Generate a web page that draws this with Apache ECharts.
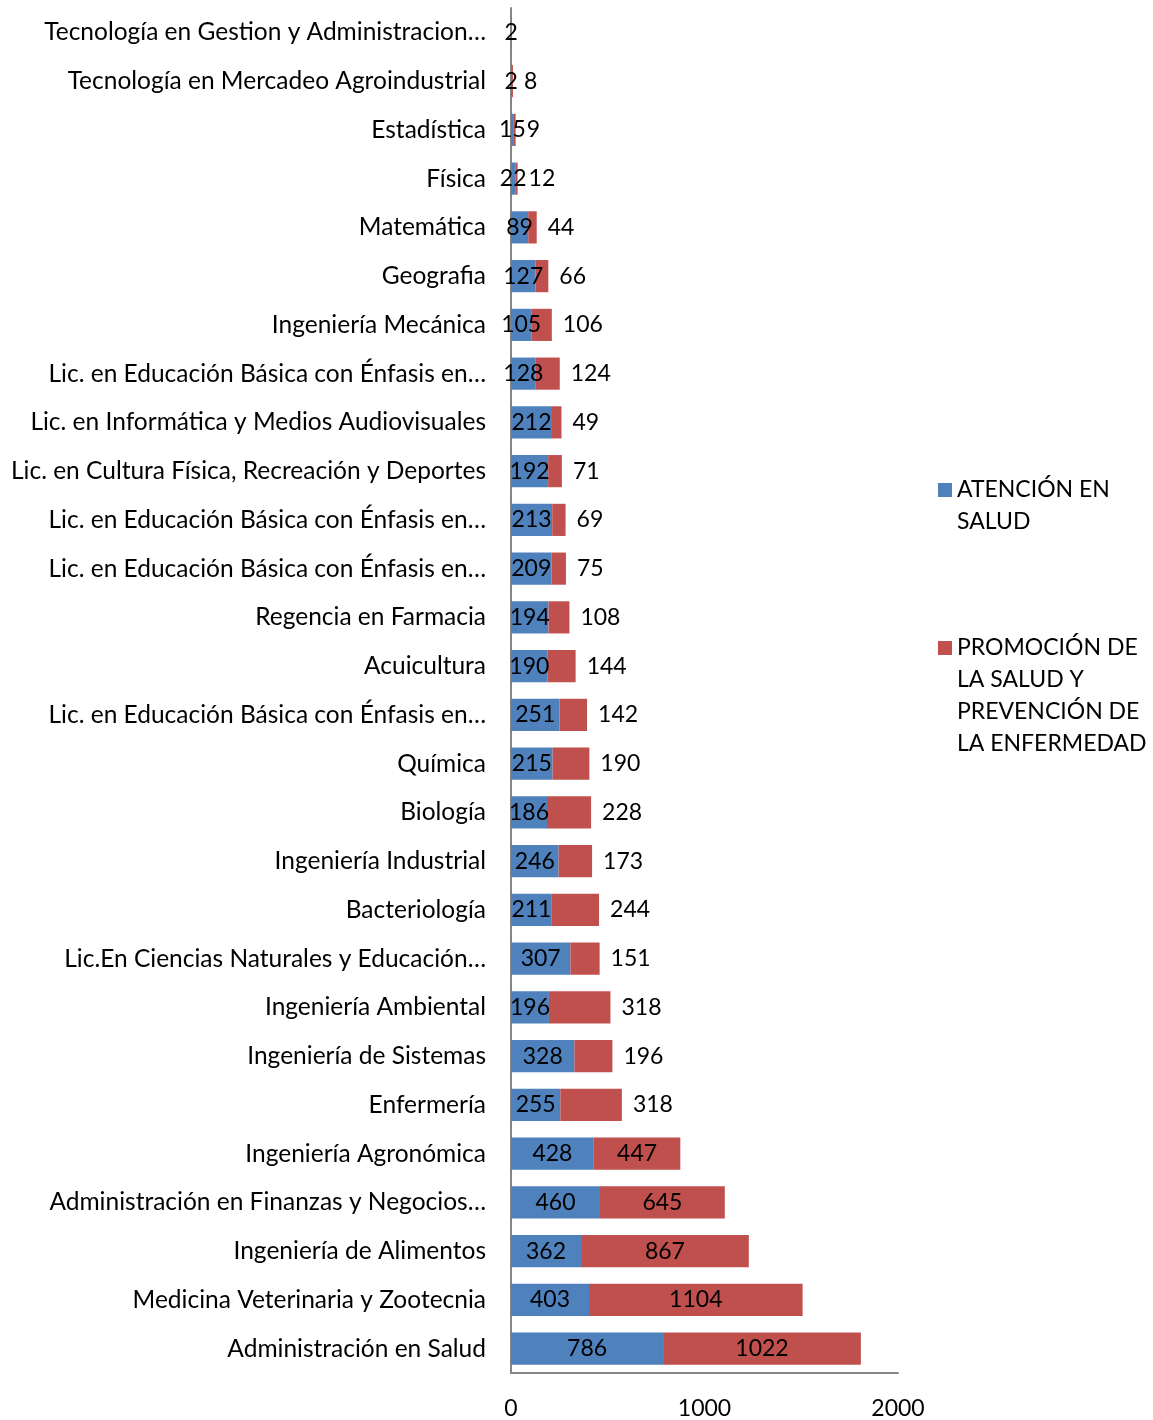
<!DOCTYPE html>
<html>
<head>
<meta charset="utf-8">
<script src="https://cdn.jsdelivr.net/npm/echarts@6/dist/echarts.min.js"></script>
<style>
  html, body { margin: 0; padding: 0; background: #fff; }
  #main { width: 1153px; height: 1420px; }
</style>
</head>
<body>
<div id="main"></div>
<script>
// programas, de arriba hacia abajo como en el gráfico
var programas = [
  'Tecnología en Gestion y Administracion…',
  'Tecnología en Mercadeo Agroindustrial',
  'Estadística',
  'Física',
  'Matemática',
  'Geografia',
  'Ingeniería Mecánica',
  'Lic. en Educación Básica con Énfasis en…',
  'Lic. en Informática y Medios Audiovisuales',
  'Lic. en Cultura Física, Recreación y Deportes',
  'Lic. en Educación Básica con Énfasis en…',
  'Lic. en Educación Básica con Énfasis en…',
  'Regencia en Farmacia',
  'Acuicultura',
  'Lic. en Educación Básica con Énfasis en…',
  'Química',
  'Biología',
  'Ingeniería Industrial',
  'Bacteriología',
  'Lic.En Ciencias Naturales y Educación…',
  'Ingeniería Ambiental',
  'Ingeniería de Sistemas',
  'Enfermería',
  'Ingeniería Agronómica',
  'Administración en Finanzas y Negocios…',
  'Ingeniería de Alimentos',
  'Medicina Veterinaria y Zootecnia',
  'Administración en Salud'
];
var atencion = [2, 2, 15, 22, 89, 127, 105, 128, 212, 192, 213, 209, 194, 190, 251,
  215, 186, 246, 211, 307, 196, 328, 255, 428, 460, 362, 403, 786];
var promocion = [null, 8, 9, 12, 44, 66, 106, 124, 49, 71, 69, 75, 108, 144, 142,
  190, 228, 173, 244, 151, 318, 196, 318, 447, 645, 867, 1104, 1022];
var serieNombres = ['ATENCIÓN EN SALUD', 'PROMOCIÓN DE LA SALUD Y PREVENCIÓN DE LA ENFERMEDAD'];
var leyendaLineas = [
  ['ATENCIÓN EN', 'SALUD'],
  ['PROMOCIÓN DE', 'LA SALUD Y', 'PREVENCIÓN DE', 'LA ENFERMEDAD']
];
var ejeX = { min: 0, max: 2000, interval: 1000 };

var FONT = 'Lato';

// el eje de categorías va de abajo hacia arriba
var cats = programas.slice().reverse();
var azul = atencion.slice().reverse();
var rojo = promocion.slice().reverse().map(function (v) {
  if (v == null) return null;
  return {
    value: v,
    label: v >= 400 ? { position: 'inside' } : { position: 'right', distance: 11 }
  };
});

// líneas vacías delante para que el cuadro quede a la altura de la primera línea
function textoLeyenda(name) {
  var lineas = leyendaLineas[serieNombres.indexOf(name)];
  var vacias = [];
  for (var i = 1; i < lineas.length; i++) vacias.push('');
  return vacias.concat(lineas).join('\n');
}

var chart = echarts.init(document.getElementById('main'));
var option = {
  animation: false,
  backgroundColor: '#fff',
  textStyle: { fontFamily: FONT },
  grid: { left: 511, right: 255, top: 8, bottom: 46 },
  legend: {
    orient: 'vertical',
    left: 938,
    top: 442,
    padding: 0,
    itemWidth: 14,
    itemHeight: 14,
    itemGap: -2,
    textGap: 8,
    icon: 'rect',
    formatter: textoLeyenda,
    textStyle: { fontFamily: FONT, fontSize: 23, color: '#000', lineHeight: 32 },
    data: serieNombres
  },
  xAxis: {
    type: 'value',
    min: ejeX.min,
    max: ejeX.max,
    interval: ejeX.interval,
    axisLine: { show: true, lineStyle: { color: '#868686', width: 2 } },
    axisTick: { show: false },
    splitLine: { show: false },
    axisLabel: {
      fontFamily: FONT, fontSize: 23, color: '#000', margin: 24,
      formatter: function (v) { return String(v); }
    }
  },
  yAxis: {
    type: 'category',
    data: cats,
    axisLine: { show: true, lineStyle: { color: '#868686', width: 2 } },
    axisTick: { show: false },
    axisLabel: { fontFamily: FONT, fontSize: 24.5, color: '#000', margin: 25 }
  },
  series: [
    {
      name: serieNombres[0],
      type: 'bar',
      stack: 'total',
      barWidth: '66%',
      itemStyle: { color: '#4F81BD' },
      label: { show: true, position: 'inside', color: '#000', fontFamily: FONT, fontSize: 23 },
      data: azul
    },
    {
      name: serieNombres[1],
      type: 'bar',
      stack: 'total',
      barWidth: '66%',
      itemStyle: { color: '#C0504D' },
      label: { show: true, position: 'inside', color: '#000', fontFamily: FONT, fontSize: 23 },
      data: rojo
    }
  ]
};
chart.setOption(option);
</script>
</body>
</html>
